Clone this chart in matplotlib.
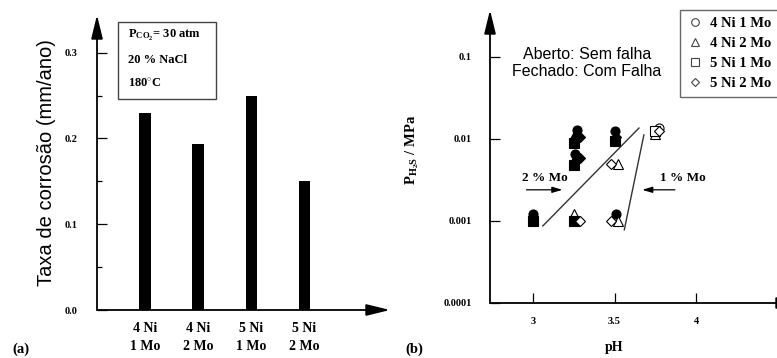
import matplotlib.pyplot as plt
from matplotlib.lines import Line2D
from matplotlib.patches import Rectangle

plt.rcParams['font.family'] = ['Liberation Serif', 'DejaVu Serif']
plt.rcParams['font.weight'] = 'bold'
plt.rcParams['mathtext.fontset'] = 'custom'
plt.rcParams['mathtext.rm'] = 'Liberation Serif:bold'
plt.rcParams['mathtext.bf'] = 'Liberation Serif:bold'
plt.rcParams['mathtext.it'] = 'Liberation Serif:bold'

# (a) taxa de corrosao
ligas = ['4 Ni\n1 Mo', '4 Ni\n2 Mo', '5 Ni\n1 Mo', '5 Ni\n2 Mo']
taxa = [0.230, 0.193, 0.249, 0.150]
yticks_a = [0.0, 0.1, 0.2, 0.3]

# (b) ensaios em H2S: pH, pressao parcial (MPa), falhou?
ni4mo1_ph = [3.00, 3.27, 3.26, 3.50, 3.51, 3.77]
ni4mo1_p = [0.0012, 0.013, 0.0065, 0.0125, 0.0012, 0.0135]
ni4mo1_falha = [1, 1, 1, 1, 1, 0]

ni4mo2_ph = [3.00, 3.25, 3.25, 3.50, 3.25, 3.52, 3.52, 3.75]
ni4mo2_p = [0.0011, 0.011, 0.0055, 0.011, 0.0012, 0.005, 0.001, 0.0115]
ni4mo2_falha = [1, 1, 1, 1, 0, 0, 0, 0]

ni5mo1_ph = [3.00, 3.25, 3.25, 3.25, 3.50, 3.75]
ni5mo1_p = [0.001, 0.009, 0.0048, 0.001, 0.0095, 0.0125]
ni5mo1_falha = [1, 1, 1, 1, 1, 0]

ni5mo2_ph = [3.29, 3.29, 3.51, 3.29, 3.48, 3.48, 3.77]
ni5mo2_p = [0.0105, 0.0058, 0.0105, 0.001, 0.005, 0.001, 0.0125]
ni5mo2_falha = [1, 1, 1, 0, 0, 0, 0]

# limites 2 % Mo e 1 % Mo
lim2_ph = [3.06, 3.65]
lim2_p = [0.00087, 0.0136]
lim1_ph = [3.56, 3.68]
lim1_p = [0.00078, 0.0112]

W, H = 777, 358
fig = plt.figure(figsize=(W / 100, H / 100), dpi=100)


def fx(px):
    return px / W


def fy(py):
    return 1 - py / H


def eixos_com_seta(ax):
    for s in ax.spines.values():
        s.set_visible(False)
    head = '-|>,head_length=0.9,head_width=0.22'
    ax.annotate('', xy=(0, 1), xytext=(0, 0), xycoords='axes fraction',
                arrowprops=dict(arrowstyle=head, color='k', lw=1.3,
                                mutation_scale=16, shrinkA=0, shrinkB=0))
    ax.annotate('', xy=(1, 0), xytext=(0, 0), xycoords='axes fraction',
                arrowprops=dict(arrowstyle=head, color='k', lw=1.3,
                                mutation_scale=16, shrinkA=0, shrinkB=0))


# ---- painel (a) ----
ax1 = fig.add_axes([fx(97), fy(310), fx(390 - 97), (310 - 15) / H])
x = list(range(len(ligas)))
ax1.bar(x, taxa, width=0.21, color='black')
ax1.set_xlim(-0.906, 4.62)
ax1.set_ylim(0, 0.344)
eixos_com_seta(ax1)
ax1.set_yticks(yticks_a)
ax1.set_yticklabels([f'{v:.1f}' for v in yticks_a], fontsize=7.5)
ax1.set_yticks([0.05, 0.15, 0.25], minor=True)
ax1.tick_params(axis='y', which='major', direction='in', length=7, width=0.9, pad=14)
ax1.tick_params(axis='y', which='minor', direction='in', length=3.5, width=0.9)
ax1.set_xticks(x)
ax1.set_xticklabels(ligas, fontsize=10, linespacing=1.5)
ax1.tick_params(axis='x', length=0, pad=9)
ax1.set_ylabel('Taxa de corrosão (mm/ano)', family='Liberation Sans',
               weight='normal', fontsize=14.5, labelpad=6)

fig.add_artist(Rectangle((fx(118), fy(99)), fx(98), 77 / H, transform=fig.transFigure,
                         fill=False, lw=1.0, edgecolor='#444444'))
fig.text(fx(128), fy(35), r'$\mathregular{P_{CO_2}}$= 30 atm', fontsize=9, va='center')
fig.text(fx(128), fy(60), '20 % NaCl', fontsize=9, va='center')
fig.text(fx(128), fy(83), r'180$^{\circ}$C', fontsize=9, va='center')
fig.text(fx(12), fy(349), '(a)', fontsize=10.5, va='center')

# ---- painel (b) ----
ax2 = fig.add_axes([fx(490), fy(303), fx(800 - 490), (303 - 10) / H])
ax2.set_yscale('log')
ax2.set_xlim(2.736, 4.638)
ax2.set_ylim(1e-4, 0.374)
eixos_com_seta(ax2)

series = [
    (ni4mo1_ph, ni4mo1_p, ni4mo1_falha, 'o', '4 Ni 1 Mo'),
    (ni4mo2_ph, ni4mo2_p, ni4mo2_falha, '^', '4 Ni 2 Mo'),
    (ni5mo1_ph, ni5mo1_p, ni5mo1_falha, 's', '5 Ni 1 Mo'),
    (ni5mo2_ph, ni5mo2_p, ni5mo2_falha, 'D', '5 Ni 2 Mo'),
]
handles = []
for ph, p, falha, mk, nome in series:
    ms = 5.5 if mk == 'D' else 6.5
    for xi, yi, f in zip(ph, p, falha):
        ax2.plot(xi, yi, marker=mk, ms=ms, mew=0.8, mec='black',
                 mfc='black' if f else 'white', ls='none')
    handles.append(Line2D([], [], marker=mk, ms=ms - 1.0, mew=0.8, mec='#444444',
                          mfc='white', ls='none', label=nome))

ax2.plot(lim2_ph, lim2_p, color='#333333', lw=1.0)
ax2.plot(lim1_ph, lim1_p, color='#333333', lw=1.0)

seta = dict(arrowstyle='-|>,head_length=0.5,head_width=0.15', color='k', lw=0.9,
            mutation_scale=12, shrinkA=0, shrinkB=0)
ax2.annotate('', xy=(3.18, 0.0024), xytext=(2.96, 0.0024), arrowprops=seta)
ax2.annotate('', xy=(3.67, 0.0024), xytext=(3.87, 0.0024), arrowprops=seta)
ax2.text(3.07, 0.0028, '2 % Mo', fontsize=9.5, ha='center', va='bottom')
ax2.text(3.92, 0.0028, '1 % Mo', fontsize=9.5, ha='center', va='bottom')

ax2.set_yticks([1e-4, 1e-3, 1e-2, 1e-1])
ax2.set_yticklabels(['0.0001', '0.001', '0.01', '0.1'], fontsize=7.5)
ax2.yaxis.set_minor_locator(plt.NullLocator())
ax2.tick_params(axis='y', direction='in', length=7, width=0.9, pad=13)
ax2.set_xticks([3, 3.5, 4])
ax2.set_xticklabels(['3', '3.5', '4'], fontsize=7.5)
ax2.tick_params(axis='x', direction='in', length=7, width=0.9, pad=10)

fig.text(fx(587), fy(63), 'Aberto: Sem falha\nFechado: Com Falha', family='Liberation Sans',
         weight='normal', fontsize=11.5, ha='center', va='center', linespacing=1.1)
fig.text(fx(412), fy(150), r'$\mathregular{P_{H_2S}}$ / MPa', fontsize=10.5,
         rotation=90, ha='center', va='center')
fig.text(fx(614), fy(347), 'pH', fontsize=10, ha='center', va='center')
fig.text(fx(405), fy(349), '(b)', fontsize=10.5, va='center')

leg = fig.legend(handles=handles, loc='upper left', bbox_to_anchor=(fx(680), fy(10)),
                 borderaxespad=0, fontsize=10.5, frameon=True, fancybox=False,
                 edgecolor='#444444', handletextpad=0.55, labelspacing=0.45,
                 borderpad=0.5, handlelength=1.0)
leg.get_frame().set_linewidth(1.0)

fig.savefig('out.png', dpi=100)
